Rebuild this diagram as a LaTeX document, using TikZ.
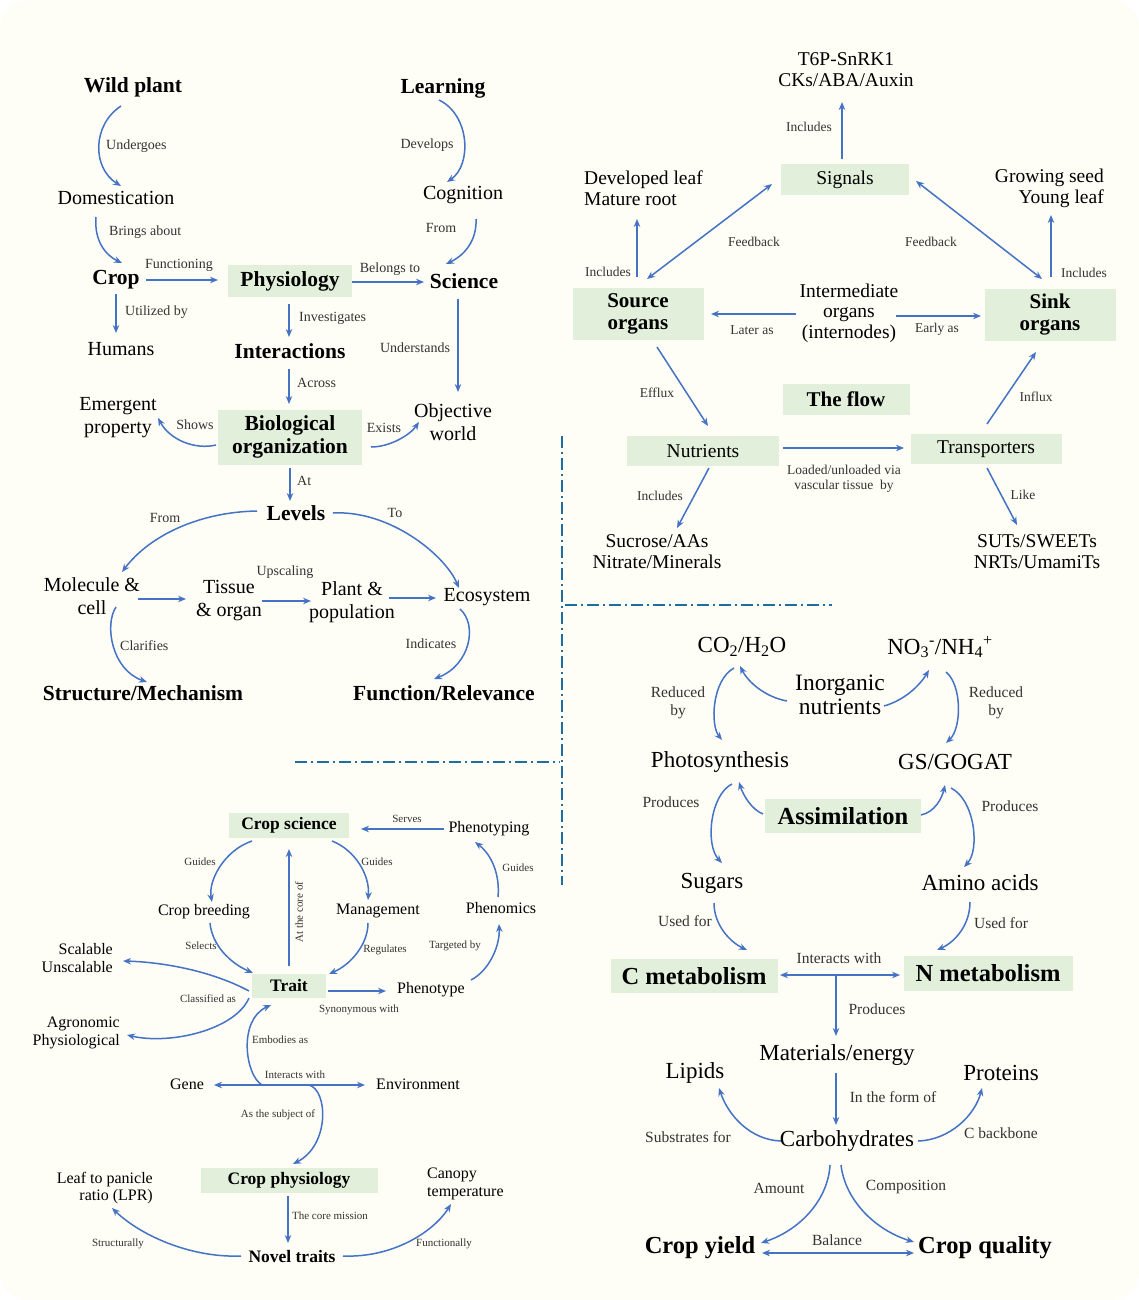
\documentclass[tikz,border=0pt]{standalone}
\usepackage{fontspec}
\setmainfont{Liberation Serif}
\usetikzlibrary{arrows.meta,calc}
\definecolor{ablue}{HTML}{4472C4}
\definecolor{gfill}{HTML}{E2EFDA}
\definecolor{bgc}{HTML}{FEFDF6}
\definecolor{dashc}{HTML}{1F6E9E}
\definecolor{labc}{HTML}{333333}
\tikzset{
  x=1pt,y=-1pt,
  arr/.style={draw=ablue,line width=1.5pt,-{Stealth[length=8pt,width=6.5pt]}},
  darr/.style={draw=ablue,line width=1.5pt,{Stealth[length=8pt,width=6.5pt]}-{Stealth[length=8pt,width=6.5pt]}},
  sep/.style={draw=dashc,line width=2pt,dash pattern=on 12pt off 4pt on 2pt off 4pt},
  gbox/.style={fill=gfill,inner sep=0pt},
  tlr/.style={font=\fontsize{20}{23}\selectfont,align=center,inner sep=1pt},
  tlb/.style={font=\fontsize{21.5}{23}\selectfont\bfseries,align=center,inner sep=1pt},
  tll/.style={font=\fontsize{14}{16}\selectfont,text=labc,inner sep=0pt,align=center},
  trr/.style={font=\fontsize{19.5}{21}\selectfont,align=center,inner sep=1pt},
  trb/.style={font=\fontsize{21}{22}\selectfont\bfseries,align=center},
  trl/.style={font=\fontsize{13.5}{15}\selectfont,text=labc,inner sep=0pt,align=center},
  brr/.style={font=\fontsize{23}{24}\selectfont,align=center,inner sep=1pt},
  brb/.style={font=\fontsize{24.5}{26}\selectfont\bfseries,align=center,inner sep=1pt},
  brl/.style={font=\fontsize{15.5}{18}\selectfont,text=labc,inner sep=0pt,align=center},
  blr/.style={font=\fontsize{16}{17.5}\selectfont,inner sep=1pt},
  blb/.style={font=\fontsize{17.5}{19}\selectfont\bfseries,inner sep=1pt},
  bll/.style={font=\fontsize{11}{12}\selectfont,text=labc,inner sep=0pt,align=center},
}
\begin{document}
\begin{tikzpicture}
% background
\fill[white] (0,0) rectangle (1139,1300);
\fill[bgc,rounded corners=28pt] (0,0) rectangle (1139,1300);
\useasboundingbox (0,0) rectangle (1139,1300);

% separators
\draw[sep] (562,436) -- (562,885);
\draw[sep] (565,605) -- (832,605);
\draw[sep] (295,762) -- (560,762);

%================ TOP LEFT =================
\node[tlb] (wild) at (133,87) {Wild plant};
\node[tlb] (learn) at (443,88) {Learning};
\node[tlr] (dom) at (116,198) {Domestication};
\node[tlr] (cog) at (463,195) {Cognition};
\node[tlb] (crop) at (116,280) {Crop};
\node[gbox,minimum width=124pt,minimum height=32pt,tlb,inner sep=0pt] (phys) at (290,281) {Physiology};
\node[tlb] (sci) at (464,281) {Science};
\node[tlr] (hum) at (121,349) {Humans};
\node[tlb] (inter) at (290,351) {Interactions};
\node[gbox,minimum width=144pt,minimum height=55pt,tlb,inner sep=0pt] (bio) at (290,437) {Biological\\organization};
\node[tlr] (emerg) at (118,418) {Emergent\\property};
\node[tlr] (obj) at (453,422) {Objective\\world};
\node[tlb] (lev) at (296,513) {Levels};
\node[tlr] (mol) at (92,596) {Molecule \&\\cell};
\node[tlr] (tis) at (229,601) {Tissue\\\& organ};
\node[tlr] (plant) at (352,602) {Plant \&\\population};
\node[tlr] (eco) at (487,597) {Ecosystem};
\node[tlb] (struct) at (143,693) {Structure/Mechanism};
\node[tlb] (func) at (444,693) {Function/Relevance};

\draw[arr] ($(wild)+(-12,19)$) .. controls (92,125) and (92,168) .. ($(dom)+(5,-12)$);
\draw[arr] ($(dom)+(-20,19)$) .. controls (94,240) and (105,255) .. ($(crop)+(6,-17)$);
\draw[arr] ($(learn)+(-4,12)$) .. controls (470,115) and (472,165) .. ($(cog)+(-16,-13)$);
\draw[arr] ($(cog)+(13,24)$) .. controls (477,240) and (465,255) .. ($(sci)+(-18,-17)$);
\draw[arr] ($(crop)+(30,0)$) -- ($(phys)+(-72,-1)$);
\draw[arr] ($(phys)+(62,1)$) -- ($(sci)+(-40,1)$);
\draw[arr] ($(crop)+(0,14)$) -- ($(hum)+(-5,-16)$);
\draw[arr] ($(phys)+(-1,23)$) -- ($(inter)+(-1,-14)$);
\draw[arr] ($(sci)+(-6,18)$) -- ($(obj)+(5,-30)$);
\draw[arr] ($(inter)+(-1,18)$) -- ($(bio)+(-1,-33)$);
\draw[arr] ($(bio)+(-74,8)$) .. controls (195,450) and (170,440) .. ($(emerg)+(40,0)$);
\draw[arr] ($(bio)+(81,10)$) .. controls (390,447) and (410,435) .. ($(obj)+(-34,0)$);
\draw[arr] ($(bio)+(0,31)$) -- ($(lev)+(-6,-12)$);
\draw[arr] ($(lev)+(-39,-2)$) .. controls (200,512) and (150,535) .. ($(mol)+(30,-24)$);
\draw[arr] ($(lev)+(37,0)$) .. controls (390,510) and (445,555) .. ($(eco)+(-28,-9)$);
\draw[arr] ($(mol)+(46,3)$) -- ($(tis)+(-43,-2)$);
\draw[arr] ($(tis)+(33,0)$) -- ($(plant)+(-41,-1)$);
\draw[arr] ($(plant)+(37,-4)$) -- ($(eco)+(-51,1)$);
\draw[arr] ($(mol)+(24,11)$) .. controls (104,625) and (112,670) .. ($(struct)+(4,-11)$);
\draw[arr] ($(eco)+(-27,12)$) .. controls (478,625) and (470,665) .. ($(func)+(-10,-14)$);

\node[tll,anchor=west] (la1) at (106,146) {Undergoes};
\node[tll,anchor=west] (la2) at (109,232) {Brings about};
\node[tll] (la3) at (427,145) {Develops};
\node[tll] (la4) at (441,228) {From};
\node[tll] (la5) at (179,265) {Functioning};
\node[tll] (la6) at (390,269) {Belongs to};
\node[tll,anchor=west] (la7) at (125,312) {Utilized by};
\node[tll,anchor=west] (la8) at (299,318) {Investigates};
\node[tll] (la9) at (415,348) {Understands};
\node[tll,anchor=west] (la10) at (297,383) {Across};
\node[tll] (la11) at (195,425) {Shows};
\node[tll] (la12) at (384,428) {Exists};
\node[tll,anchor=west] (la13) at (297,481) {At};
\node[tll] (la14) at (165,518) {From};
\node[tll] (la15) at (395,513) {To};
\node[tll] (la16) at (285,572) {Upscaling};
\node[tll,anchor=west] (la17) at (120,646) {Clarifies};
\node[tll] (la18) at (431,644) {Indicates};

%================ TOP RIGHT =================
\node[trr] (sig2) at (846,70) {T6P-SnRK1\\CKs/ABA/Auxin};
\node[gbox,minimum width=128pt,minimum height=31pt,trr,inner sep=0pt] (sig) at (845,180) {Signals};
\node[trr,align=left,anchor=west] (dev) at (583,188) {Developed leaf\\Mature root};
\node[trr,align=right,anchor=east] (grow) at (1105,188) {Growing seed\\Young leaf};
\node[gbox,minimum width=131pt,minimum height=52pt,trb,inner sep=0pt] (src) at (638,314) {Source\\organs};
\node[gbox,minimum width=131pt,minimum height=52pt,trb,inner sep=0pt] (sink) at (1050,315) {Sink\\organs};
\node[trr,font=\fontsize{19.5}{20.5}\selectfont] (inter2) at (849,313) {Intermediate\\organs\\(internodes)};
\node[gbox,minimum width=127pt,minimum height=31pt,trb,inner sep=0pt] (flow) at (846,399) {The flow};
\node[gbox,minimum width=152pt,minimum height=30pt,trr,inner sep=0pt] (nut) at (703,451) {Nutrients};
\node[gbox,minimum width=151pt,minimum height=30pt,trr,inner sep=0pt] (trans) at (986,449) {Transporters};
\node[trr] (sucr) at (657,552) {Sucrose/AAs\\Nitrate/Minerals};
\node[trr] (suts) at (1037,552) {SUTs/SWEETs\\NRTs/UmamiTs};

\draw[arr] ($(sig)+(-3,-21)$) -- ($(sig2)+(-4,32)$);
\draw[arr] ($(src)+(-1,-37)$) -- ($(dev.west)+(54,31)$);
\draw[arr] ($(sink)+(1,-38)$) -- ($(grow.east)+(-54,27)$);
\draw[darr] ($(src)+(9,-35)$) -- ($(sig)+(-73,4)$);
\draw[darr] ($(sig)+(71,1)$) -- ($(sink)+(-8,-36)$);
\draw[arr] ($(inter2)+(-53,1)$) -- ($(src)+(73,0)$);
\draw[arr] ($(inter2)+(47,3)$) -- ($(sink)+(-69,1)$);
\draw[arr] ($(src)+(19,33)$) -- ($(nut)+(5,-25)$);
\draw[arr] ($(nut)+(80,-3)$) -- ($(trans)+(-82,-1)$);
\draw[arr] ($(trans)+(1,-25)$) -- ($(sink)+(-14,37)$);
\draw[arr] ($(nut)+(6,17)$) -- ($(sucr)+(20,-24)$);
\draw[arr] ($(trans)+(1,19)$) -- ($(suts)+(-20,-27)$);

\node[trl] (lb1) at (809,127) {Includes};
\node[trl] (lb2) at (608,272) {Includes};
\node[trl] (lb3) at (1084,273) {Includes};
\node[trl] (lb4) at (754,242) {Feedback};
\node[trl] (lb5) at (931,242) {Feedback};
\node[trl] (lb6) at (752,330) {Later as};
\node[trl] (lb7) at (937,329) {Early as};
\node[trl] (lb8) at (657,393) {Efflux};
\node[trl] (lb9) at (844,479) {Loaded/unloaded via\\vascular tissue\ \ by};
\node[trl] (lb10) at (1036,397) {Influx};
\node[trl] (lb11) at (660,496) {Includes};
\node[trl] (lb12) at (1023,495) {Like};

%================ BOTTOM RIGHT =================
\node[brr] (co2) at (742,647) {CO\textsubscript{2}/H\textsubscript{2}O};
\node[brr] (no3) at (940,647) {NO\textsubscript{3}\textsuperscript{-}/NH\textsubscript{4}\textsuperscript{+}};
\node[brr,font=\fontsize{23.5}{24}\selectfont] (inorg) at (840,695) {Inorganic\\nutrients};
\node[brr] (photo) at (720,762) {Photosynthesis};
\node[brr] (gs) at (955,762) {GS/GOGAT};
\node[gbox,minimum width=156pt,minimum height=34pt,brb,inner sep=0pt] (assim) at (843,816) {Assimilation};
\node[brr] (sug) at (712,883) {Sugars};
\node[brr] (amino) at (980,883) {Amino acids};
\node[gbox,minimum width=167pt,minimum height=34pt,brb,inner sep=0pt] (cmet) at (694,976) {C metabolism};
\node[gbox,minimum width=169pt,minimum height=35pt,brb,inner sep=0pt] (nmet) at (988,973) {N metabolism};
\coordinate (junc) at (836,975);
\node[brr] (mat) at (837,1055) {Materials/energy};
\node[brr] (lip) at (695,1073) {Lipids};
\node[brr] (prot) at (1001,1073) {Proteins};
\node[brr] (carb) at (847,1141) {Carbohydrates};
\node[brb] (yield) at (700,1248) {Crop yield};
\node[brb] (qual) at (985,1248) {Crop quality};

\draw[arr] ($(inorg)+(-53,6)$) .. controls (765,697) and (748,682) .. ($(co2)+(-2,19)$);
\draw[arr] ($(inorg)+(44,11)$) .. controls (905,700) and (920,685) .. ($(no3)+(-11,23)$);
\draw[arr] ($(co2)+(-8,21)$) .. controls (712,680) and (710,725) .. ($(photo)+(2,-22)$);
\draw[arr] ($(no3)+(6,25)$) .. controls (962,685) and (962,728) .. ($(gs)+(-9,-19)$);
\draw[arr] ($(assim)+(-80,-2)$) .. controls (752,810) and (743,795) .. ($(photo)+(19,20)$);
\draw[arr] ($(assim)+(78,-1)$) .. controls (935,812) and (942,798) .. ($(gs)+(-10,23)$);
\draw[arr] ($(photo)+(12,22)$) .. controls (710,795) and (705,845) .. ($(sug)+(10,-20)$);
\draw[arr] ($(gs)+(-4,26)$) .. controls (975,800) and (980,850) .. ($(amino)+(-16,-16)$);
\draw[arr] ($(sug)+(2,20)$) .. controls (714,925) and (730,942) .. ($(cmet)+(53,-26)$);
\draw[arr] ($(amino)+(-10,19)$) .. controls (970,925) and (955,942) .. ($(nmet)+(-51,-23)$);
\draw[darr] ($(cmet)+(86,-1)$) -- ($(nmet)+(-88,2)$);
\draw[arr] (junc) -- ($(mat)+(-1,-19)$);
\draw[arr] ($(mat)+(-1,18)$) -- ($(carb)+(-11,-16)$);
\draw[arr] ($(carb)+(-66,0)$) .. controls (750,1140) and (728,1115) .. ($(lip)+(24,15)$);
\draw[arr] ($(carb)+(71,0)$) .. controls (950,1140) and (975,1115) .. ($(prot)+(-19,15)$);
\draw[arr] ($(carb)+(-17,24)$) .. controls (828,1200) and (800,1230) .. ($(yield)+(61,-5)$);
\draw[arr] ($(carb)+(-6,24)$) .. controls (845,1200) and (875,1230) .. ($(qual)+(-71,-6)$);
\draw[darr] ($(yield)+(62,5)$) -- ($(qual)+(-71,5)$);

\node[brl] (lc1) at (678,703) {Reduced\\by};
\node[brl] (lc2) at (996,703) {Reduced\\by};
\node[brl] (lc3) at (671,802) {Produces};
\node[brl] (lc4) at (1010,806) {Produces};
\node[brl] (lc5) at (685,921) {Used for};
\node[brl] (lc6) at (1001,923) {Used for};
\node[brl] (lc7) at (839,958) {Interacts with};
\node[brl] (lc8) at (877,1009) {Produces};
\node[brl] (lc9) at (893,1097) {In the form of};
\node[brl] (lc10) at (688,1137) {Substrates for};
\node[brl] (lc11) at (1001,1133) {C backbone};
\node[brl] (lc12) at (779,1188) {Amount};
\node[brl] (lc13) at (906,1187) {Composition};
\node[brl] (lc14) at (837,1240) {Balance};

%================ BOTTOM LEFT =================
\node[gbox,minimum width=120pt,minimum height=25pt,blb,inner sep=0pt] (csci) at (289,825) {Crop science};
\node[blr] (ptyping) at (489,829) {Phenotyping};
\node[blr] (breed) at (204,912) {Crop breeding};
\node[blr] (manage) at (378,911) {Management};
\node[blr] (pmics) at (501,908) {Phenomics};
\node[gbox,minimum width=74pt,minimum height=24pt,blb,inner sep=0pt] (trait) at (289,986) {Trait};
\node[blr] (ptype) at (431,990) {Phenotype};
\node[blr,align=right,anchor=east] (scal) at (114,958) {Scalable\\Unscalable};
\node[blr,align=right,anchor=east] (agro) at (121,1033) {Agronomic\\Physiological};
\node[blr] (gene) at (187,1084) {Gene};
\node[blr] (env) at (418,1084) {Environment};
\node[gbox,minimum width=177pt,minimum height=25pt,blb,inner sep=0pt] (cphys) at (289,1180) {Crop physiology};
\node[blb] (novel) at (292,1256) {Novel traits};
\node[blr,align=right,anchor=east] (lpr) at (154,1188) {Leaf to panicle\\ratio (LPR)};
\node[blr,align=left,anchor=west] (canopy) at (426,1184) {Canopy\\temperature};
\coordinate (gx1) at (262,1085);
\coordinate (gx2) at (309,1085);

\draw[arr] ($(ptyping)+(-45,0)$) -- ($(csci)+(72,4)$);
\draw[arr] ($(csci)+(-37,16)$) .. controls (225,850) and (208,880) .. ($(breed)+(8,-10)$);
\draw[arr] ($(csci)+(43,16)$) .. controls (355,850) and (370,875) .. ($(manage)+(-10,-11)$);
\draw[arr] ($(pmics)+(-3,-11)$) .. controls (500,875) and (492,855) .. ($(ptyping)+(-14,13)$);
\draw[arr] ($(trait)+(0,-20)$) -- ($(csci)+(0,24)$);
\draw[arr] ($(breed)+(6,11)$) .. controls (212,945) and (230,963) .. ($(trait)+(-36,-13)$);
\draw[arr] ($(manage)+(-10,12)$) .. controls (368,945) and (350,965) .. ($(trait)+(40,-12)$);
\draw[arr] ($(trait)+(39,5)$) -- ($(ptype)+(-45,1)$);
\draw[arr] ($(ptype)+(40,-10)$) .. controls (490,970) and (500,945) .. ($(pmics)+(-2,16)$);
\draw[arr] ($(trait)+(-40,5)$) .. controls (210,970) and (160,962) .. ($(scal.east)+(9,3)$);
\draw[arr] ($(trait)+(-40,12)$) .. controls (235,1030) and (170,1045) .. ($(agro.east)+(6,2)$);
\draw[darr] ($(gene)+(27,1)$) -- ($(env)+(-53,1)$);
\draw[arr] (gx1) .. controls (245,1075) and (238,1020) .. ($(trait)+(-18,19)$);
\draw[arr] (gx2) .. controls (328,1090) and (330,1145) .. ($(cphys)+(4,-16)$);
\draw[arr] ($(cphys)+(-1,16)$) -- ($(novel)+(-4,-13)$);
\draw[arr] ($(novel)+(-51,0)$) .. controls (190,1258) and (140,1235) .. ($(lpr.east)+(-42,20)$);
\draw[arr] ($(novel)+(51,0)$) .. controls (395,1258) and (435,1230) .. ($(canopy.west)+(25,20)$);

\node[bll] (ld1) at (407,819) {Serves};
\node[bll] (ld2) at (200,862) {Guides};
\node[bll] (ld3) at (377,862) {Guides};
\node[bll] (ld4) at (518,868) {Guides};
\node[bll,rotate=90] (ld5) at (299,912) {At the core of};
\node[bll] (ld6) at (201,946) {Selects};
\node[bll] (ld7) at (385,950) {Regulates};
\node[bll] (ld8) at (359,1010) {Synonymous with};
\node[bll] (ld9) at (455,946) {Targeted by};
\node[bll] (ld10) at (208,999) {Classified as};
\node[bll] (ld11) at (295,1075) {Interacts with};
\node[bll,anchor=west] (ld12) at (252,1040) {Embodies as};
\node[bll] (ld13) at (278,1115) {As the subject of};
\node[bll] (ld14) at (330,1216) {The core mission};
\node[bll] (ld15) at (118,1244) {Structurally};
\node[bll] (ld16) at (444,1244) {Functionally};
\end{tikzpicture}
\end{document}
